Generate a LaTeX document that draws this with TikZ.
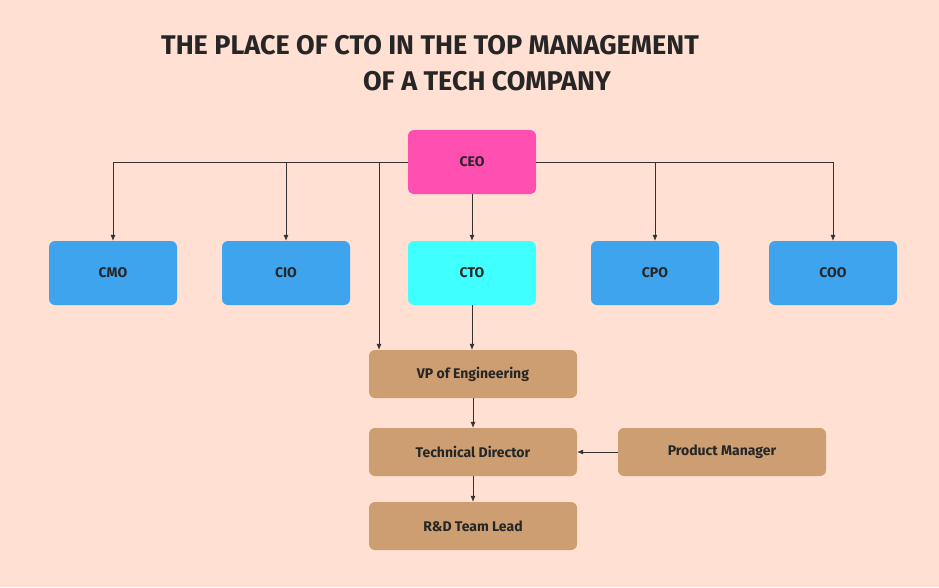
\documentclass[tikz,border=0pt]{standalone}
\usepackage{fontspec}
\setmainfont{Fira Sans}
\usetikzlibrary{arrows.meta}
\definecolor{bgpeach}{HTML}{FFE0D2}
\definecolor{ceopink}{HTML}{FF4FB0}
\definecolor{cblue}{HTML}{3FA4EE}
\definecolor{ccyan}{HTML}{40FFFF}
\definecolor{ctan}{HTML}{CC9E72}
\tikzset{
  box/.style={rounded corners=6pt, minimum width=128pt, minimum height=64pt, font=\fontsize{14}{16}\selectfont\bfseries, text=black!85},
  wide/.style={box, fill=ctan, minimum width=208pt, minimum height=48pt},
  link/.style={draw=black!80, -{Latex[length=6pt,width=5pt]}, line width=0.6pt}
}
\begin{document}
\begin{tikzpicture}[x=1pt, y=-1pt]
    \fill[bgpeach] (0,0) rectangle (939,587);
    \useasboundingbox (0,0) rectangle (939,587);

    % title
    \node[font=\fontsize{27}{30}\selectfont\bfseries, text=black!85] (title1) at (430,45) {THE PLACE OF CTO IN THE TOP MANAGEMENT};
    \node[font=\fontsize{27}{30}\selectfont\bfseries, text=black!85] (title2) at (487,81) {OF A TECH COMPANY};

    % chiefs
    \node[box, fill=ceopink] (ceo) at (472,162) {CEO};
    \node[box, fill=cblue]  (cmo) at (113,273) {CMO};
    \node[box, fill=cblue]  (cio) at (286,273) {CIO};
    \node[box, fill=ccyan]  (cto) at (472,273) {CTO};
    \node[box, fill=cblue]  (cpo) at (655,273) {CPO};
    \node[box, fill=cblue]  (coo) at (833,273) {COO};

    % engineering line
    \node[wide] (vp)  at (473,374) {VP of Engineering};
    \node[wide] (td)  at (473,452) {Technical Director};
    \node[wide] (pm)  at (722,452) {Product Manager};
    \node[wide] (rnd) at (473,526) {R\&D Team Lead};

    % connectors
    \draw[link] (ceo.west) -| (cmo.north);
    \draw[link] (ceo.west) -| (cio.north);
    \draw[link] (ceo.east) -| (cpo.north);
    \draw[link] (ceo.east) -| (coo.north);
    \draw[link] (ceo.west) -| ([xshift=-94pt]vp.north);
    \draw[link] (ceo) -- (cto);
    \draw[link] (cto.south) -- (cto.south |- vp.north);
    \draw[link] (vp) -- (td);
    \draw[link] (pm) -- (td);
    \draw[link] (td) -- (rnd);
\end{tikzpicture}
\end{document}
